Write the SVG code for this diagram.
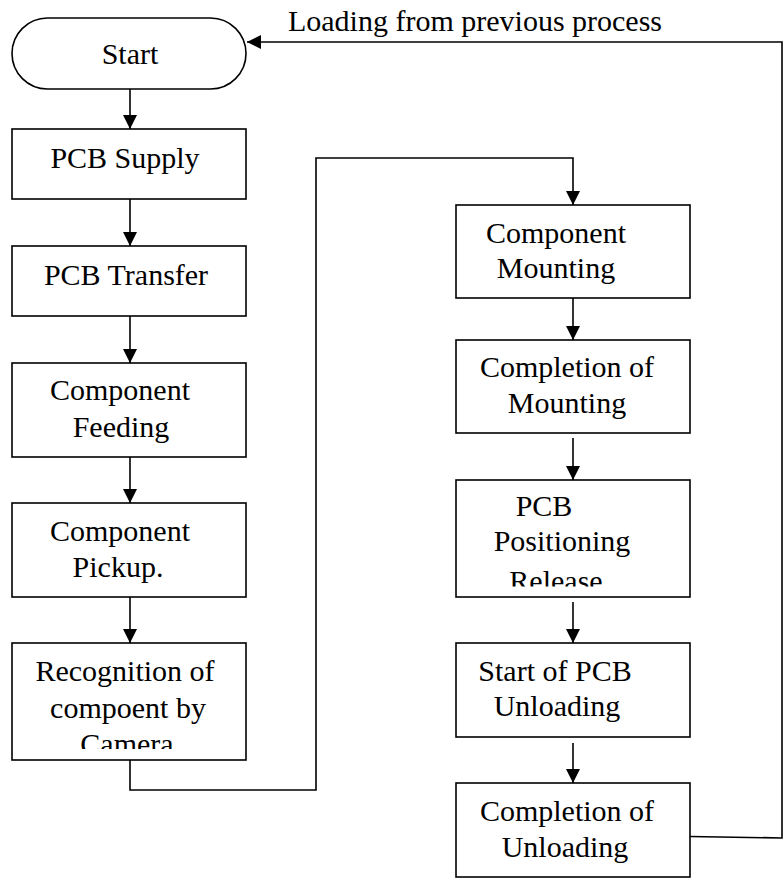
<svg xmlns="http://www.w3.org/2000/svg" width="783" height="879" viewBox="0 0 783 879">
<style>
.box{fill:#fff;stroke:#000;stroke-width:1.6}
.t{font-family:"Liberation Serif","Times New Roman",serif;font-size:30px;fill:#000;text-anchor:middle}
.c{fill:none;stroke:#000;stroke-width:1.6}
</style>
<defs>
<marker id="ah" viewBox="0 0 14 14" refX="14" refY="7" markerWidth="14" markerHeight="14" markerUnits="userSpaceOnUse" orient="auto">
<path d="M0,0 L14,7 L0,14 Z" fill="#000"/>
</marker>
<clipPath id="clipCam"><rect x="12" y="643" width="234" height="106"/></clipPath>
<clipPath id="clipRel"><rect x="456" y="480" width="234" height="106.5"/></clipPath>
</defs>
<rect width="783" height="879" fill="#fff"/>
<g id="connectors">
<line class="c" x1="130" y1="89" x2="130" y2="129" marker-end="url(#ah)"/>
<line class="c" x1="130" y1="199" x2="130" y2="246" marker-end="url(#ah)"/>
<line class="c" x1="130" y1="316" x2="130" y2="363" marker-end="url(#ah)"/>
<line class="c" x1="130" y1="457" x2="130" y2="503" marker-end="url(#ah)"/>
<line class="c" x1="130" y1="597" x2="130" y2="643" marker-end="url(#ah)"/>
<polyline class="c" points="130,760 130,790 316,790 316,158 573,158 573,205" marker-end="url(#ah)"/>
<line class="c" x1="573" y1="298" x2="573" y2="340" marker-end="url(#ah)"/>
<line class="c" x1="573" y1="438" x2="573" y2="480" marker-end="url(#ah)"/>
<line class="c" x1="573" y1="602" x2="573" y2="643" marker-end="url(#ah)"/>
<line class="c" x1="573" y1="743" x2="573" y2="783" marker-end="url(#ah)"/>
<polyline class="c" points="690,836.5 782,838 782,42 247,42" marker-end="url(#ah)"/>
<text class="t" x="475" y="31">Loading from previous process</text>
</g>
<g id="start">
<rect class="box" x="12" y="18" width="234" height="71" rx="35.5" ry="35.5"/>
<text class="t" x="130" y="64">Start</text>
</g>
<g id="pcb-supply">
<rect class="box" x="12" y="129" width="234" height="70"/>
<text class="t" x="125" y="168">PCB Supply</text>
</g>
<g id="pcb-transfer">
<rect class="box" x="12" y="246" width="234" height="70"/>
<text class="t" x="126" y="285">PCB Transfer</text>
</g>
<g id="component-feeding">
<rect class="box" x="12" y="363" width="234" height="94"/>
<text class="t" x="120" y="400">Component</text>
<text class="t" x="121" y="437">Feeding</text>
</g>
<g id="component-pickup">
<rect class="box" x="12" y="503" width="234" height="94"/>
<text class="t" x="120" y="541">Component</text>
<text class="t" x="118" y="577">Pickup.</text>
</g>
<g id="recognition">
<rect class="box" x="12" y="643" width="234" height="117"/>
<g clip-path="url(#clipCam)">
<text class="t" x="125" y="681">Recognition of</text>
<text class="t" x="128" y="718">compoent by</text>
<text class="t" x="127" y="754">Camera</text>
</g>
</g>
<g id="component-mounting">
<rect class="box" x="456" y="205" width="234" height="93"/>
<text class="t" x="556" y="243">Component</text>
<text class="t" x="556" y="278">Mounting</text>
</g>
<g id="completion-mounting">
<rect class="box" x="456" y="340" width="234" height="93"/>
<text class="t" x="567" y="377">Completion of</text>
<text class="t" x="567" y="413">Mounting</text>
</g>
<g id="pcb-positioning-release">
<rect class="box" x="456" y="480" width="234" height="117"/>
<g clip-path="url(#clipRel)">
<text class="t" x="544" y="516">PCB</text>
<text class="t" x="562" y="551">Positioning</text>
<text class="t" x="556" y="591">Release</text>
</g>
</g>
<g id="start-unloading">
<rect class="box" x="456" y="643" width="234" height="94"/>
<text class="t" x="555" y="681">Start of PCB</text>
<text class="t" x="557" y="716">Unloading</text>
</g>
<g id="completion-unloading">
<rect class="box" x="456" y="783" width="234" height="94"/>
<text class="t" x="567" y="821">Completion of</text>
<text class="t" x="565" y="857">Unloading</text>
</g>
</svg>
